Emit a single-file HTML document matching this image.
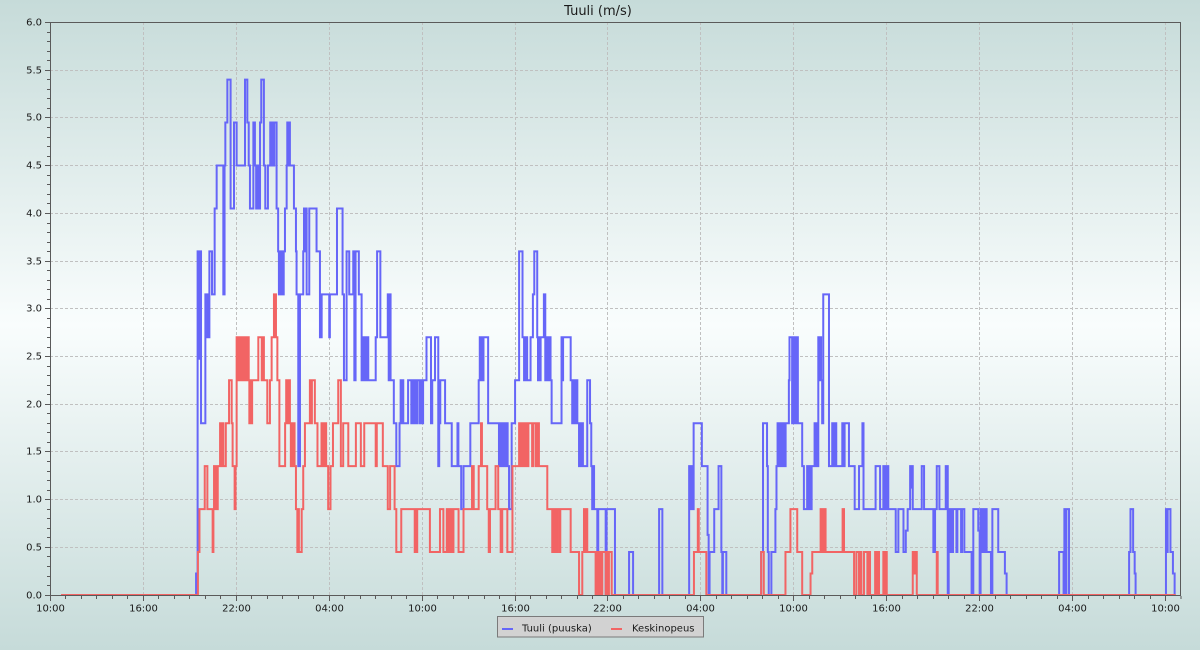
<!DOCTYPE html>
<html><head><meta charset="utf-8"><style>
html,body{margin:0;padding:0;width:1200px;height:650px;overflow:hidden;}
svg{display:block;}
text{font-family:"DejaVu Sans","Liberation Sans",sans-serif;fill:#1a1a1a;}
</style></head><body>
<svg width="1200" height="650" viewBox="0 0 1200 650" xmlns="http://www.w3.org/2000/svg">
<defs>
<linearGradient id="bg" x1="0" y1="0" x2="0" y2="1">
<stop offset="0" stop-color="#c6dbd9"/>
<stop offset="0.5" stop-color="#f9fdfd"/>
<stop offset="1" stop-color="#c6dbd9"/>
</linearGradient>
</defs>
<rect x="0" y="0" width="1200" height="650" fill="url(#bg)"/>
<text x="598" y="15" font-size="13" text-anchor="middle">Tuuli (m/s)</text>
<g stroke="#c0c0c0" stroke-width="1" stroke-dasharray="3,2" fill="none">
<path d="M50 547.5H1180M50 499.5H1180M50 451.5H1180M50 404.5H1180M50 356.5H1180M50 308.5H1180M50 261.5H1180M50 213.5H1180M50 165.5H1180M50 117.5H1180M50 70.5H1180"/>
<path d="M143.5 22V595M236.5 22V595M329.5 22V595M422.5 22V595M515.5 22V595M607.5 22V595M700.5 22V595M793.5 22V595M886.5 22V595M979.5 22V595M1072.5 22V595M1165.5 22V595"/>
</g>
<g fill="none" stroke-linejoin="miter" stroke-linecap="butt">
<path transform="translate(50.5,595) scale(15.486,-42.95)" vector-effect="non-scaling-stroke" stroke="#6666f8" stroke-width="2" d="M0.68 0H9.40V0.5H9.50V8H9.60V5.5H9.66V8H9.72V4H10.00V7H10.13V6H10.26V8H10.43V7H10.60V9H10.73V10H11.16V7H11.24V10H11.29V11H11.42V12H11.63V9H11.85V11H12.02V10H12.56V12H12.71V11H12.80V10H12.88V9H13.10V11H13.20V10H13.28V9H13.36V10H13.44V9H13.53V11H13.61V12H13.78V10H13.87V9H14.04V10H14.19V11H14.27V10H14.33V11H14.41V10H14.45V11H14.60V9H14.70V8H14.75V7H14.82V8H14.88V7H14.95V8H15.00V7H15.06V8H15.14V9H15.25V10H15.29V11H15.35V10H15.40V11H15.46V10H15.72V9H15.85V8H15.89V7H16.00V3H16.11V7H16.32V8H16.37V9H16.45V8H16.50V9H16.54V7H16.71V9H17.18V8H17.40V6H17.51V7H18.00V6H18.04V7H18.50V9H18.86V7H18.95V5H19.12V8H19.29V7H19.55V8H19.62V5H19.70V8H19.91V7H20.09V5H20.20V6H20.26V5H20.32V6H20.38V5H20.45V6H20.52V5H21.00V6H21.09V8H21.30V6H21.78V7H21.84V5H21.90V7H21.96V5H22.17V4H22.33V3H22.54V4H22.61V5H22.66V4H22.72V5H22.78V4H23.09V5H23.30V4H23.36V5H23.45V4H23.52V5H23.60V4H23.70V5H23.85V4H23.92V5H24.00V4H24.06V5H24.28V6H24.57V4H24.65V5H24.83V6H25.04V3H25.10V4H25.17V5H25.48V4H25.91V3H26.28V4H26.34V3H26.52V2H26.67V3H27.11V4H27.65V5H27.72V6H27.78V5H27.84V6H27.90V5H27.96V6H28.26V4H28.96V3H29.02V4H29.08V3H29.14V4H29.20V3H29.28V4H29.36V3H29.45V4H29.52V3H29.61V2H29.78V4H30.00V5H30.26V8H30.48V6H30.58V5H30.65V6H30.78V5H31.00V6H31.15V7H31.24V8H31.43V6H31.48V5H31.54V6H31.60V5H31.65V6H31.86V7H31.95V5H32.00V6H32.06V5H32.12V6H32.18V5H32.24V6H32.29V5H32.36V4H33.00V6H33.05V5H33.10V6H33.59V5H33.69V4H33.75V5H33.82V4H33.90V5H34.02V4H34.13V3H34.20V4H34.26V3H34.32V4H34.38V3H34.66V5H34.84V4H34.92V3H34.98V2H35.04V3H35.10V2H35.31V0H35.37V2H35.85V0H35.91V2H36.45V0H37.36V1H37.62V0H39.30V2H39.51V0H41.24V3H41.32V2H41.38V3H41.45V2H41.53V4H42.06V3H42.43V1.4H42.50V0H42.56V1H42.86V2H43.14V3H43.32V1H43.38V0H43.42V1H43.64V0H45.89V1H46.01V4H46.27V3H46.32V1H46.38V0H46.55V1H46.81V2H46.88V3H46.95V4H47.03V3H47.09V4H47.15V3H47.22V4H47.28V3H47.35V4H47.41V3H47.47V4H47.68V5H47.72V6H47.89V4H47.95V6H48.02V4H48.08V6H48.14V4H48.20V6H48.26V4H48.54V3H48.65V2H48.86V3H48.93V2H49.00V3H49.08V2H49.15V3H49.34V4H49.40V3H49.46V4H49.52V3H49.58V6H49.64V5H49.70V6H49.76V5H49.83V4H49.90V7H50.27V3H50.48V4H50.56V3H50.62V4H50.74V3H51.13V4H51.20V3H51.28V4H51.56V3H51.93V2H52.21V3H52.43V4H52.50V2H53.28V3H53.57V2H53.78V3H53.84V2H53.90V3H53.96V2H54.02V3H54.10V2H54.58V1H54.75V2H55.08V1H55.23V1.5H55.35V2H55.51V3H55.58V2.5H55.62V3H55.68V2H56.26V3H56.41V2H57.01V1H57.12V2H57.23V3H57.40V2H57.81V3H57.94V0H58.00V2H58.09V1H58.15V2H58.22V1H58.28V2H58.50V1H58.56V2H58.80V1H58.86V2H59.01V1H59.48V0H59.59V2H59.91V1.5H60.00V0H60.06V2H60.13V1H60.20V2H60.30V1H60.36V2H60.45V1H60.73V0H60.82V2H61.20V1H61.63V0.5H61.74V0H65.13V1H65.42V0H65.47V2H65.56V0H65.60V2H65.77V0H69.65V1H69.74V2H69.91V1H70.01V0.5H70.07V0H72.03V2H72.10V1H72.14V2H72.32V1H72.48V0.5H72.59V0H72.66"/>
<path transform="translate(50.5,595) scale(15.486,-42.95)" vector-effect="non-scaling-stroke" stroke="#f26464" stroke-width="2" d="M0.68 0H9.52V1H9.62V2H9.96V3H10.13V2H10.47V1H10.52V2H10.56V3H10.62V2H10.68V3H10.74V2H10.80V3H10.95V4H11.02V3H11.08V4H11.16V3H11.32V4H11.53V5H11.70V4H11.76V3H11.89V2H11.95V3H12.02V6H12.08V5H12.14V6H12.20V5H12.26V6H12.32V5H12.38V6H12.44V5H12.50V6H12.56V5H12.62V6H12.68V5H12.74V6H12.80V5H12.84V4H12.90V5H12.96V4H13.02V5H13.42V6H13.64V5H13.70V6H13.78V5H14.00V4H14.17V5H14.28V6H14.43V7H14.56V6H14.65V5H14.78V3H15.15V4H15.22V5H15.28V4H15.35V5H15.46V4H15.52V3H15.58V4H15.64V3H15.70V4H15.76V3H15.85V2H15.94V1H16.00V2H16.04V1H16.22V2H16.32V3H16.43V4H16.75V5H16.82V4H16.88V5H17.07V4H17.24V3H17.50V4H17.56V3H17.62V4H17.68V3H17.74V4H17.80V3H17.93V2H18.08V3H18.24V4H18.58V5H18.75V3H18.90V4H19.23V3H19.72V4H20.04V3H20.26V4H21.00V3H21.07V4H21.46V3H21.78V2H21.93V3H22.22V2H22.33V1H22.65V2H23.52V1H23.58V2H23.63V1H23.68V2H24.50V1H25.15V2H25.37V1H25.59V2H25.65V1H25.72V2H25.80V1H25.86V2H25.95V1H26.02V2H26.35V1H26.67V2H27.22V3H27.33V2H27.65V3H27.80V4H27.86V3H28.20V2H28.30V1H28.38V2H28.74V3H28.91V2H29.07V1H29.17V2H29.50V1H29.83V3H30.26V4H30.32V3H30.38V4H30.44V3H30.50V4H30.56V3H30.62V4H30.68V3H30.74V4H30.80V3H30.86V4H31.10V3H31.16V4H31.32V3H31.38V4H31.44V3H31.50V4H31.54V3H32.08V2H32.40V1H32.46V2H32.52V1H32.58V2H32.64V1H32.72V2H32.85V1H32.92V2H33.59V1H34.13V0H34.34V1H34.45V2H34.52V1H34.58V2H34.66V1H35.20V0H35.31V1H35.40V0H35.46V1H35.52V0H35.63V1H35.85V0H35.92V1H35.98V0H36.06V1H36.24V0H41.55V1H41.80V2H41.86V1H42.35V0H45.89V1H46.06V0H47.46V1H47.78V2H48.22V1H48.54V0H49.08V0.5H49.19V1H49.73V2H49.79V1H49.85V2H49.92V1H49.98V2H50.05V1H51.15V2H51.24V1H51.89V0H52.04V1H52.21V0H52.27V1H52.36V0H52.53V1H52.75V0H52.82V1H52.92V0H53.25V1H53.32V0H53.38V1H53.50V0H53.78V1H53.85V0H53.90V1H54.00V0H55.68V1H55.75V0.5H55.82V1H55.94V0H57.23V1H57.29V0H72.66"/>
</g>
<g stroke="#5a5a5a" stroke-width="1" fill="none">
<path d="M50.5 22V595.5H1180.5V22.5H50.5"/>
<path d="M45 595.5H50M45 547.5H50M45 499.5H50M45 451.5H50M45 404.5H50M45 356.5H50M45 308.5H50M45 261.5H50M45 213.5H50M45 165.5H50M45 117.5H50M45 70.5H50M45 22.5H50"/>
<path d="M47 585.5H50M47 576.5H50M47 566.5H50M47 556.5H50M47 537.5H50M47 528.5H50M47 518.5H50M47 509.5H50M47 490.5H50M47 480.5H50M47 471.5H50M47 461.5H50M47 442.5H50M47 432.5H50M47 423.5H50M47 413.5H50M47 394.5H50M47 385.5H50M47 375.5H50M47 366.5H50M47 347.5H50M47 337.5H50M47 327.5H50M47 318.5H50M47 299.5H50M47 289.5H50M47 280.5H50M47 270.5H50M47 251.5H50M47 242.5H50M47 232.5H50M47 223.5H50M47 203.5H50M47 194.5H50M47 184.5H50M47 175.5H50M47 156.5H50M47 146.5H50M47 137.5H50M47 127.5H50M47 108.5H50M47 98.5H50M47 89.5H50M47 79.5H50M47 60.5H50M47 51.5H50M47 41.5H50M47 32.5H50"/>
<path d="M50.5 596V601M143.5 596V601M236.5 596V601M329.5 596V601M422.5 596V601M515.5 596V601M607.5 596V601M700.5 596V601M793.5 596V601M886.5 596V601M979.5 596V601M1072.5 596V601M1165.5 596V601"/>
<path id="minx" d="M65.5 596V599M81.5 596V599M96.5 596V599M112.5 596V599M127.5 596V599M158.5 596V599M174.5 596V599M189.5 596V599M205.5 596V599M220.5 596V599M251.5 596V599M267.5 596V599M282.5 596V599M298.5 596V599M313.5 596V599M344.5 596V599M360.5 596V599M375.5 596V599M391.5 596V599M406.5 596V599M437.5 596V599M453.5 596V599M468.5 596V599M484.5 596V599M499.5 596V599M530.5 596V599M546.5 596V599M561.5 596V599M577.5 596V599M592.5 596V599M623.5 596V599M638.5 596V599M654.5 596V599M669.5 596V599M685.5 596V599M716.5 596V599M731.5 596V599M747.5 596V599M762.5 596V599M778.5 596V599M809.5 596V599M824.5 596V599M840.5 596V599M855.5 596V599M871.5 596V599M902.5 596V599M917.5 596V599M933.5 596V599M948.5 596V599M964.5 596V599M995.5 596V599M1010.5 596V599M1026.5 596V599M1041.5 596V599M1057.5 596V599M1088.5 596V599M1103.5 596V599M1119.5 596V599M1134.5 596V599M1150.5 596V599M1181 596V599"/>
</g>
<g font-size="10" text-anchor="end">
<text x="42" y="598.5">0.0</text>
<text x="42" y="550.5">0.5</text>
<text x="42" y="502.5">1.0</text>
<text x="42" y="454.5">1.5</text>
<text x="42" y="407.5">2.0</text>
<text x="42" y="359.5">2.5</text>
<text x="42" y="311.5">3.0</text>
<text x="42" y="264.5">3.5</text>
<text x="42" y="216.5">4.0</text>
<text x="42" y="168.5">4.5</text>
<text x="42" y="120.5">5.0</text>
<text x="42" y="73.5">5.5</text>
<text x="42" y="25.5">6.0</text>
</g>
<g font-size="10" text-anchor="middle">
<text x="50.5" y="611.5">10:00</text>
<text x="143.5" y="611.5">16:00</text>
<text x="236.5" y="611.5">22:00</text>
<text x="329.5" y="611.5">04:00</text>
<text x="422.5" y="611.5">10:00</text>
<text x="515.5" y="611.5">16:00</text>
<text x="607.5" y="611.5">22:00</text>
<text x="700.5" y="611.5">04:00</text>
<text x="793.5" y="611.5">10:00</text>
<text x="886.5" y="611.5">16:00</text>
<text x="979.5" y="611.5">22:00</text>
<text x="1072.5" y="611.5">04:00</text>
<text x="1165.5" y="611.5">10:00</text>
</g>
<rect x="497.5" y="616.5" width="206" height="20.5" fill="#d2d2d2" stroke="#7a7a7a" stroke-width="1"/>
<path d="M502 629H513" stroke="#6666f8" stroke-width="2"/>
<path d="M611 629H622" stroke="#f26464" stroke-width="2"/>
<text x="522" y="631.5" font-size="10">Tuuli (puuska)</text>
<text x="632" y="631.5" font-size="10">Keskinopeus</text>
</svg>
</body></html>
